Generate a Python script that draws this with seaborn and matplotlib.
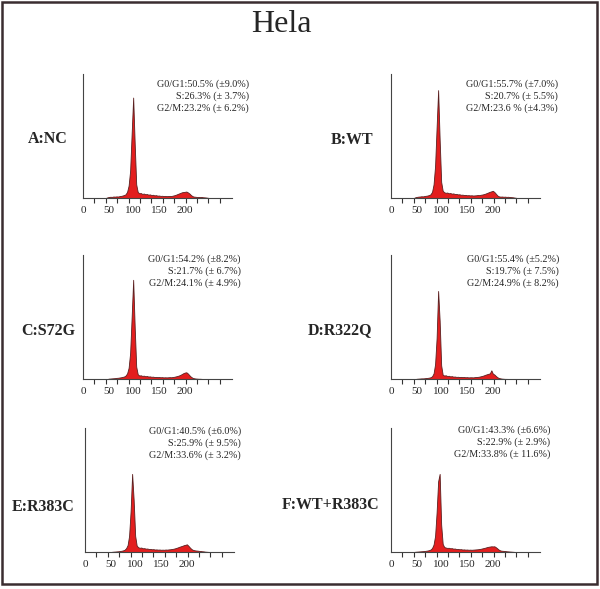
import numpy as np
import pandas as pd
import matplotlib
matplotlib.use("Agg")
import matplotlib.pyplot as plt
import seaborn as sns
from matplotlib.patches import Rectangle
from matplotlib.ticker import FixedLocator

# channel (bin centre) grid of the DNA histograms
CHANNELS = [45, 48, 51, 54, 57, 60, 63, 66, 69, 72,
            75, 78, 81, 84, 87, 90, 93, 96, 99, 102,
            105, 108, 111, 114, 117, 120, 123, 126, 129, 132,
            135, 138, 141, 144, 147, 150, 153, 156, 159, 162,
            165, 168, 171, 174, 177, 180, 183, 186, 189, 192,
            195, 198, 201, 204, 207, 210, 213, 216, 219, 222,
            225, 228, 231, 234, 237, 240, 243, 246, 249]

# relative counts (fraction of the axis height)
NC = [0, 0.005, 0.008, 0.01, 0.009, 0.012, 0.011, 0.013, 0.012, 0.015,
      0.017, 0.02, 0.024, 0.03, 0.05, 0.1, 0.22, 0.52, 0.81, 0.44,
      0.11, 0.048, 0.038, 0.04, 0.033, 0.036, 0.03, 0.032, 0.027, 0.029,
      0.024, 0.026, 0.021, 0.023, 0.019, 0.02, 0.017, 0.018, 0.016, 0.017,
      0.015, 0.016, 0.017, 0.016, 0.019, 0.022, 0.026, 0.031, 0.036, 0.041,
      0.046, 0.048, 0.05, 0.052, 0.045, 0.036, 0.024, 0.015, 0.011, 0.01,
      0.008, 0.009, 0.007, 0.008, 0.006, 0.005, 0.004, 0.002, 0]
WT = [0, 0.006, 0.009, 0.011, 0.012, 0.014, 0.013, 0.016, 0.018, 0.02,
      0.024, 0.03, 0.05, 0.11, 0.26, 0.57, 0.87, 0.47, 0.13, 0.058,
      0.046, 0.042, 0.044, 0.038, 0.04, 0.035, 0.037, 0.032, 0.033, 0.029,
      0.03, 0.026, 0.027, 0.024, 0.025, 0.022, 0.023, 0.021, 0.022, 0.02,
      0.021, 0.022, 0.024, 0.023, 0.026, 0.028, 0.031, 0.035, 0.04, 0.045,
      0.05, 0.054, 0.058, 0.048, 0.034, 0.02, 0.013, 0.011, 0.012, 0.01,
      0.011, 0.009, 0.01, 0.008, 0.007, 0.006, 0.004, 0.002, 0]
S72G = [0, 0, 0.003, 0.004, 0.005, 0.006, 0.007, 0.009, 0.01, 0.012,
        0.014, 0.017, 0.02, 0.028, 0.045, 0.09, 0.21, 0.5, 0.80, 0.42,
        0.1, 0.038, 0.028, 0.03, 0.025, 0.027, 0.022, 0.024, 0.02, 0.021,
        0.018, 0.019, 0.016, 0.017, 0.015, 0.016, 0.014, 0.015, 0.013, 0.014,
        0.013, 0.014, 0.015, 0.014, 0.016, 0.018, 0.021, 0.024, 0.028, 0.033,
        0.04, 0.047, 0.052, 0.054, 0.044, 0.03, 0.018, 0.01, 0.006, 0.004,
        0.003, 0.002, 0.002, 0.001, 0, 0, 0, 0, 0]
R322Q = [0, 0, 0.002, 0.003, 0.004, 0.005, 0.005, 0.006, 0.008, 0.009,
         0.011, 0.014, 0.022, 0.045, 0.12, 0.33, 0.71, 0.47, 0.11, 0.034,
         0.028, 0.03, 0.024, 0.026, 0.021, 0.023, 0.019, 0.02, 0.017, 0.018,
         0.016, 0.017, 0.015, 0.016, 0.014, 0.015, 0.013, 0.014, 0.014, 0.013,
         0.015, 0.016, 0.017, 0.019, 0.022, 0.025, 0.029, 0.034, 0.038, 0.042,
         0.045, 0.07, 0.043, 0.036, 0.024, 0.014, 0.008, 0.005, 0.003, 0.002,
         0.001, 0.001, 0, 0, 0, 0, 0, 0, 0]
R383C = [0, 0, 0, 0.002, 0.003, 0.004, 0.005, 0.006, 0.008, 0.01,
         0.013, 0.018, 0.03, 0.055, 0.13, 0.33, 0.63, 0.42, 0.13, 0.052,
         0.038, 0.034, 0.036, 0.03, 0.031, 0.027, 0.028, 0.024, 0.025, 0.022,
         0.023, 0.02, 0.021, 0.019, 0.02, 0.018, 0.019, 0.018, 0.02, 0.019,
         0.021, 0.022, 0.024, 0.026, 0.029, 0.033, 0.037, 0.042, 0.046, 0.05,
         0.055, 0.058, 0.062, 0.05, 0.036, 0.024, 0.017, 0.014, 0.012, 0.011,
         0.009, 0.008, 0.006, 0.005, 0.003, 0.002, 0.001, 0, 0]
WT_R383C = [0, 0.002, 0.003, 0.004, 0.005, 0.006, 0.007, 0.008, 0.01, 0.012,
            0.015, 0.02, 0.032, 0.06, 0.13, 0.32, 0.57, 0.63, 0.22, 0.065,
            0.04, 0.036, 0.033, 0.034, 0.03, 0.031, 0.027, 0.028, 0.024, 0.025,
            0.022, 0.023, 0.02, 0.021, 0.019, 0.02, 0.018, 0.019, 0.018, 0.019,
            0.02, 0.021, 0.022, 0.024, 0.026, 0.029, 0.032, 0.035, 0.039, 0.042,
            0.044, 0.046, 0.045, 0.046, 0.038, 0.028, 0.018, 0.012, 0.01, 0.009,
            0.008, 0.006, 0.005, 0.004, 0.003, 0.002, 0.001, 0, 0]

PANEL_LABELS = ["A:NC", "B:WT", "C:S72G", "D:R322Q", "E:R383C", "F:WT+R383C"]
PANEL_DATA = [NC, WT, S72G, R322Q, R383C, WT_R383C]
STATS = [
    ["G0/G1:50.5% (\u00b19.0%)", "S:26.3% (\u00b1 3.7%)", "G2/M:23.2% (\u00b1 6.2%)"],
    ["G0/G1:55.7% (\u00b17.0%)", "S:20.7% (\u00b1 5.5%)", "G2/M:23.6 % (\u00b14.3%)"],
    ["G0/G1:54.2% (\u00b18.2%)", "S:21.7% (\u00b1 6.7%)", "G2/M:24.1% (\u00b1 4.9%)"],
    ["G0/G1:55.4% (\u00b15.2%)", "S:19.7% (\u00b1 7.5%)", "G2/M:24.9% (\u00b1 8.2%)"],
    ["G0/G1:40.5% (\u00b16.0%)", "S:25.9% (\u00b1 9.5%)", "G2/M:33.6% (\u00b1 3.2%)"],
    ["G0/G1:43.3% (\u00b16.6%)", "S:22.9% (\u00b1 2.9%)", "G2/M:33.8% (\u00b1 11.6%)"],
]
TICK_VALUES = [0, 50, 100, 150, 200]

sns.set_style("white")
plt.rcParams['font.family'] = ['Liberation Serif', 'DejaVu Serif']

W, H = 600, 589
fig = plt.figure(figsize=(6, 5.89), dpi=100)

# layout in pixels: axes left/top, stats text right edge + first line centre, label right edge + centre
AX_POS = [(83, 74), (391, 74), (83, 255), (391, 255), (85, 428), (391, 428)]
TXT_POS = [(249, 84), (558, 84), (241, 259), (559, 259), (241, 431), (550, 430)]
LBL_POS = [(68, 139), (373, 140), (75, 331), (372, 330), (74, 507), (379, 505)]

RED = "#e31e1e"

for i in range(6):
    left, top = AX_POS[i]
    ax = fig.add_axes([left / W, 1 - (top + 124) / H, 149 / W, 124 / H])
    df = pd.DataFrame({"channel": CHANNELS, "count": PANEL_DATA[i]})
    sns.histplot(data=df, x="channel", weights="count", binwidth=3,
                 binrange=(43.5, 250.5), element="poly", fill=True,
                 color=RED, alpha=1, edgecolor="#5a2020", linewidth=0.6,
                 ax=ax)
    ax.set_xlim(0, 294)
    ax.set_ylim(0, 1)
    ax.set_xlabel("")
    ax.set_ylabel("")
    ax.set_yticks([])
    ax.set_xticks(TICK_VALUES)
    ax.set_xticklabels([str(t) for t in TICK_VALUES])
    ax.xaxis.set_minor_locator(FixedLocator([22.5 * k for k in range(1, 13)]))
    ax.tick_params(axis="x", which="major", bottom=False, length=0, pad=5.5,
                   labelsize=8)
    ax.tick_params(axis="x", which="minor", bottom=True, length=3.5, width=0.8,
                   direction="out", color="#333333")
    sns.despine(ax=ax)
    for side in ["left", "bottom"]:
        ax.spines[side].set_color("#444444")
        ax.spines[side].set_linewidth(0.8)
    ax.patch.set_alpha(0)

    tx, ty = TXT_POS[i]
    for j, line in enumerate(STATS[i]):
        fig.text(tx / W, 1 - (ty + 12 * j) / H, line, ha="right", va="center",
                 fontsize=7.3)
    lx, ly = LBL_POS[i]
    fig.text(lx / W, 1 - ly / H, PANEL_LABELS[i], ha="right", va="center",
             fontsize=11.5, fontweight="bold")

fig.text(281 / W, 1 - 24 / H, "Hela", ha="center", va="center", fontsize=23)

fig.add_artist(Rectangle((1.5 / W, 1 - 584 / H), 595 / W, 582.5 / H,
                         transform=fig.transFigure, fill=False,
                         linewidth=1.8, edgecolor="#3a2d30"))

fig.savefig("out.png", dpi=100)
